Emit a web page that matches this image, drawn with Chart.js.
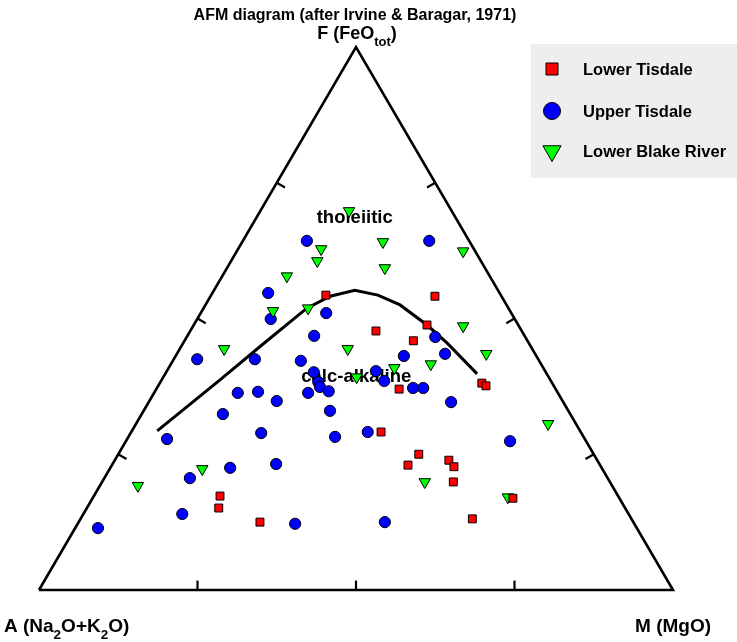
<!DOCTYPE html>
<html>
<head>
<meta charset="utf-8">
<title>AFM diagram</title>
<script src="https://cdn.jsdelivr.net/npm/chart.js@4.4.0/dist/chart.umd.min.js"></script>
<style>
  html, body { margin: 0; padding: 0; background: #fff; }
  #wrap { width: 737px; height: 642px; position: relative; }
</style>
</head>
<body>
<div id="wrap"><canvas id="afm"></canvas></div>
<script>
// AFM ternary values (F = FeOtot, M = MgO, A = 100 - F - M)
const seriesNames = ['Lower Tisdale', 'Upper Tisdale', 'Lower Blake River'];

const lowerTisdaleF = [54.3, 54.1, 47.7, 48.8, 45.9, 37.0, 38.1, 37.6, 29.1, 25.0, 23.0, 23.9, 22.7, 19.9, 16.9, 13.1, 17.3, 15.1, 12.5];
const lowerTisdaleM = [18.1, 35.4, 29.3, 36.8, 36.1, 38.3, 50.8, 51.7, 39.4, 47.4, 46.7, 52.7, 54.1, 55.4, 66.3, 61.8, 19.9, 20.8, 28.6];

const upperTisdaleF = [64.3, 64.3, 54.7, 49.9, 51.0, 46.8, 42.5, 42.5, 42.2, 40.1, 40.3, 38.3, 37.4, 36.6, 36.3, 36.5, 36.3, 34.8, 33.0, 32.4,
                       46.6, 43.5, 43.1, 38.5, 37.2, 37.2, 34.6, 28.9, 28.2, 27.8, 23.2, 22.5, 20.6, 14.0, 11.4, 12.2, 29.1, 27.4, 12.5];
const upperTisdaleM = [10.1, 29.4, 8.8, 11.6, 19.8, 20.0, 3.7, 12.8, 20.2, 23.3, 33.0, 24.9, 25.6, 27.4, 24.3, 16.3, 13.2, 20.1, 29.4, 12.8,
                       39.2, 42.3, 36.0, 35.2, 40.4, 42.0, 47.7, 20.6, 32.6, 6.3, 25.8, 18.9, 13.5, 15.6, 3.6, 34.3, 37.3, 60.6, 48.3];

const blakeRiverF = [69.8, 62.8, 60.6, 57.8, 64.1, 59.3, 62.4, 51.4, 51.9, 44.4, 44.4, 48.6, 43.5, 41.6, 40.9, 39.2, 22.3, 19.2, 30.6, 19.9, 17.1];
const blakeRiverM = [14.0, 13.1, 13.6, 10.2, 22.2, 24.9, 35.7, 11.2, 16.5, 7.0, 26.5, 42.6, 48.8, 41.0, 35.6, 30.5, 14.6, 6.0, 65.0, 50.9, 65.4];

// tholeiitic / calc-alkaline dividing line (Irvine & Baragar, 1971)
const boundaryF = [29.3, 38.7, 45.3, 51.9, 54.1, 55.2, 54.3, 52.5, 48.8, 45.5, 39.8];
const boundaryM = [4.0, 9.2, 12.7, 16.3, 18.9, 22.2, 26.3, 30.7, 36.8, 41.6, 49.2];

const tickValues = [25, 50, 75];

// ternary -> cartesian (side length 100)
const H = Math.sqrt(3) / 2;
function toXY(f, m) { return { x: m + f / 2, y: f * H }; }
function series(fs, ms) { return fs.map((f, i) => toXY(f, ms[i])); }

const FONT = '"Liberation Sans", Arial, Helvetica, sans-serif';

// frame + tick marks
const frame = [toXY(0, 0), toXY(0, 100), toXY(100, 0), toXY(0, 0)];
const tickLen = 1.5;
const tickSets = [];
tickValues.forEach(v => {
  let p = toXY(0, v);
  tickSets.push([p, { x: p.x, y: p.y + tickLen }]);
  p = toXY(v, 0);
  tickSets.push([p, { x: p.x + tickLen * H, y: p.y - tickLen * 0.5 }]);
  p = toXY(v, 100 - v);
  tickSets.push([p, { x: p.x - tickLen * H, y: p.y - tickLen * 0.5 }]);
});

const lineDs = (data, width) => ({
  data: data,
  showLine: true,
  borderColor: '#000',
  borderWidth: width,
  pointRadius: 0,
  fill: false,
  tension: 0,
  order: 10
});

const datasets = [
  {
    label: seriesNames[0],
    data: series(lowerTisdaleF, lowerTisdaleM),
    pointStyle: 'rect',
    pointRadius: 5.6,
    pointBackgroundColor: '#ff0000',
    pointBorderColor: '#000',
    pointBorderWidth: 1,
    order: 1
  },
  {
    label: seriesNames[2],
    data: series(blakeRiverF, blakeRiverM),
    pointStyle: 'triangle',
    pointRotation: 180,
    pointRadius: 6.6,
    pointBackgroundColor: '#00ff00',
    pointBorderColor: '#000',
    pointBorderWidth: 1,
    order: 2
  },
  {
    label: seriesNames[1],
    data: series(upperTisdaleF, upperTisdaleM),
    pointStyle: 'circle',
    pointRadius: 5.6,
    pointBackgroundColor: '#0000ff',
    pointBorderColor: '#000',
    pointBorderWidth: 1,
    order: 3
  },
  lineDs(series(boundaryF, boundaryM), 3),
  lineDs(frame, 2.6)
];
tickSets.forEach(t => datasets.push(lineDs(t, 2.2)));

// pixels per unit so that the triangle sits like in the original
const pxX = 6.34, pxY = 6.27;
const originX = 39, originY = 590;
const W = 737, Hgt = 642;

function drawRich(ctx, parts, x, y, size, subSize, align) {
  const widths = parts.map(p => {
    ctx.font = 'bold ' + (p.sub ? subSize : size) + 'px ' + FONT;
    return ctx.measureText(p.t).width;
  });
  const total = widths.reduce((a, b) => a + b, 0);
  let cx = align === 'center' ? x - total / 2 : align === 'right' ? x - total : x;
  ctx.textAlign = 'left';
  ctx.textBaseline = 'alphabetic';
  parts.forEach((p, i) => {
    ctx.font = 'bold ' + (p.sub ? subSize : size) + 'px ' + FONT;
    ctx.fillText(p.t, cx, p.sub ? y + 7 : y);
    cx += widths[i];
  });
}

const afmDecor = {
  id: 'afmDecor',
  beforeDatasetsDraw(chart) {
    const { ctx, scales: { x, y } } = chart;
    ctx.save();
    ctx.fillStyle = '#000';
    ctx.font = 'bold 18.5px ' + FONT;
    ctx.textAlign = 'center';
    ctx.textBaseline = 'alphabetic';
    let p = toXY(67.6, 16.0);
    ctx.fillText('tholeiitic', x.getPixelForValue(p.x), y.getPixelForValue(p.y));
    p = toXY(38.3, 30.9);
    ctx.fillText('calc-alkaline', x.getPixelForValue(p.x), y.getPixelForValue(p.y));
    ctx.restore();
  },
  afterDraw(chart) {
    const { ctx } = chart;
    ctx.save();
    ctx.fillStyle = '#000';

    ctx.font = 'bold 16px ' + FONT;
    ctx.textAlign = 'center';
    ctx.textBaseline = 'alphabetic';
    ctx.fillText('AFM diagram (after Irvine & Baragar, 1971)', 355, 20);

    drawRich(ctx, [{ t: 'F (FeO' }, { t: 'tot', sub: true }, { t: ')' }], 357, 39, 18, 13, 'center');
    drawRich(ctx, [{ t: 'A (Na' }, { t: '2', sub: true }, { t: 'O+K' }, { t: '2', sub: true }, { t: 'O)' }], 4, 632, 19, 13.5, 'left');
    drawRich(ctx, [{ t: 'M (MgO)' }], 711, 632, 19, 13.5, 'right');

    // legend box
    ctx.fillStyle = '#eeeeee';
    ctx.fillRect(531, 44, W - 531, 134);
    const rows = [69, 111, 151];
    const legendOrder = [0, 2, 1];
    const legendR = [8.5, 8.5, 10.5];
    legendOrder.forEach((di, i) => {
      const ds = chart.data.datasets[di];
      ctx.fillStyle = ds.pointBackgroundColor;
      ctx.strokeStyle = '#000';
      ctx.lineWidth = 1;
      Chart.helpers.drawPoint(ctx, {
        pointStyle: ds.pointStyle,
        rotation: ds.pointRotation || 0,
        radius: legendR[i],
        borderWidth: 1
      }, 552, rows[i]);
      ctx.fillStyle = '#000';
      ctx.font = 'bold 16.5px ' + FONT;
      ctx.textAlign = 'left';
      ctx.textBaseline = 'middle';
      ctx.fillText(ds.label, 583, rows[i] + 1);
    });
    ctx.restore();
  }
};

new Chart(document.getElementById('afm'), {
  type: 'scatter',
  data: { datasets: datasets },
  options: {
    responsive: true,
    maintainAspectRatio: false,
    animation: false,
    events: [],
    layout: { padding: 0, autoPadding: false },
    scales: {
      x: {
        type: 'linear', display: false, bounds: 'data',
        min: -originX / pxX, max: (W - originX) / pxX
      },
      y: {
        type: 'linear', display: false, bounds: 'data',
        min: -(Hgt - originY) / pxY, max: originY / pxY
      }
    },
    plugins: {
      legend: { display: false },
      title: { display: false },
      tooltip: { enabled: false }
    },
    clip: false
  },
  plugins: [afmDecor]
});
</script>
</body>
</html>
